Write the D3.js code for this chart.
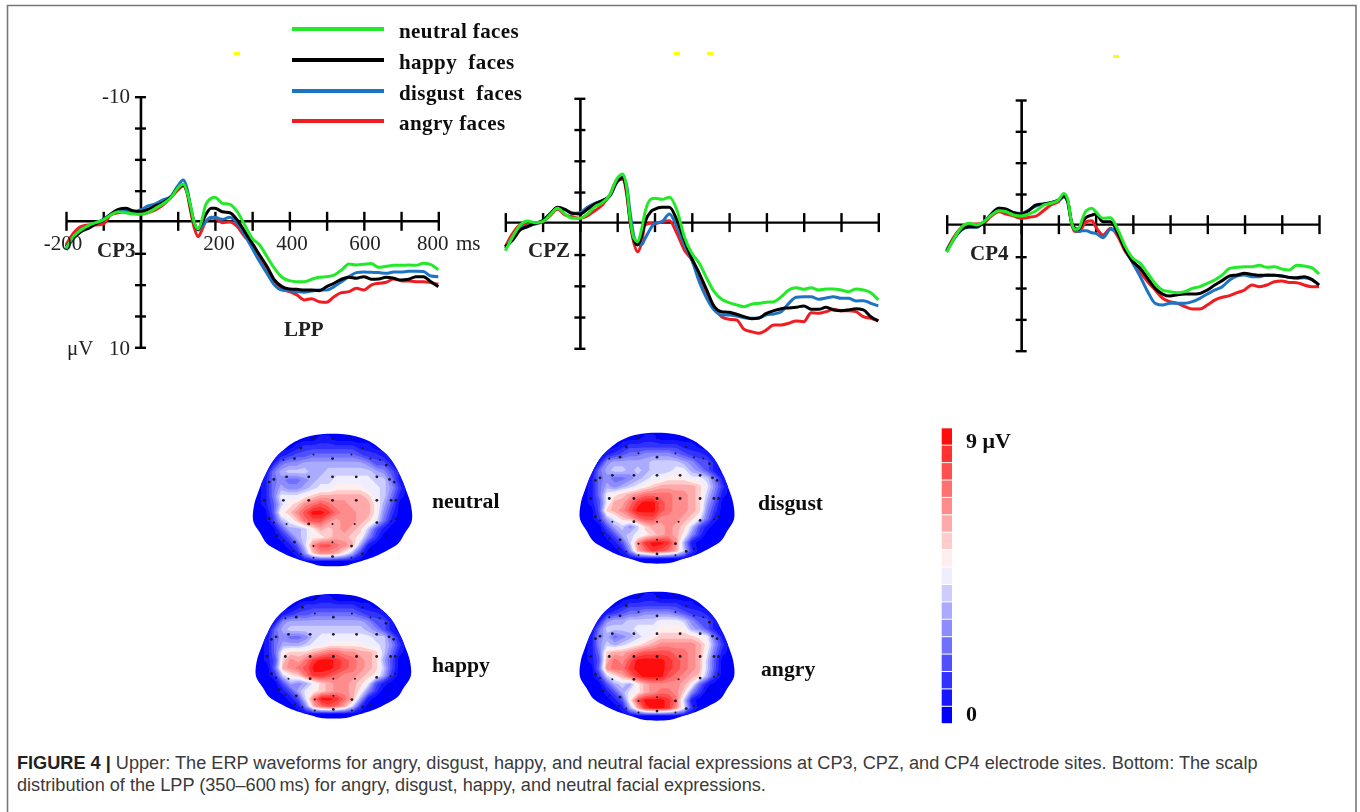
<!DOCTYPE html>
<html>
<head>
<meta charset="utf-8">
<script src="https://cdn.jsdelivr.net/npm/d3@7"></script>
<style>
  html, body { margin: 0; padding: 0; background: #fff; }
  svg { display: block; }
  text { white-space: pre; }
</style>
</head>
<body>
<div id="figure"></div>
<script>
// time points of the waveforms (ms)
const times = [-200,-180,-160,-140,-120,-100,-80,-60,-40,-20,0,20,40,60,80,100,115,125,135,145,155,165,175,190,200,220,240,260,280,300,320,340,360,380,400,420,440,460,480,500,520,540,560,580,600,620,640,660,680,700,720,740,760,780,800];

// amplitudes (uV)
const cp3Neutral = [2.10,1.17,.64,.29,.05,-.16,-.56,-.82,-.74,-.64,-.61,-.74,-1.09,-1.44,-1.89,-2.69,-3.03,-2.42,-1.22,.11,.56,-.16,-1.36,-1.89,-1.97,-1.49,-1.41,-.82,.24,1.30,1.84,2.77,3.70,4.41,4.68,4.76,4.76,4.57,4.41,4.36,4.23,3.83,3.35,3.43,3.38,3.32,3.62,3.54,3.46,3.46,3.43,3.46,3.30,3.40,3.83];
const cp3Happy = [1.97,1.30,.77,.51,.16,-.16,-.61,-1.01,-1.09,-.90,-.82,-1.01,-1.28,-1.54,-1.97,-2.69,-2.95,-2.42,-1.09,.16,.59,.05,-.56,-1.09,-1.09,-.82,-.74,-.16,.77,1.70,2.63,3.56,4.63,5.16,5.35,5.37,5.43,5.43,5.48,5.16,4.89,4.57,4.41,4.49,4.36,4.57,4.55,4.41,4.49,4.63,4.57,4.36,4.36,4.76,5.16];
const cp3Disgust = [2.23,1.30,.64,.43,.11,-.21,-.64,-.90,-.90,-.82,-.96,-1.28,-1.44,-1.76,-1.97,-2.87,-3.35,-2.69,-1.17,.11,.64,.37,-.03,-.37,-.37,-.21,-.37,.11,1.04,2.10,3.16,4.10,5.03,5.43,5.48,5.56,5.61,5.50,5.43,5.43,5.16,4.76,4.36,4.04,3.99,4.02,4.04,4.10,3.99,3.99,3.94,3.94,3.96,4.31,4.36];
const cp3Angry = [1.84,.90,.37,.24,.24,.16,-.56,-.74,-.82,-.74,-.64,-.74,-.96,-1.36,-1.89,-2.55,-2.87,-2.34,-.82,.51,1.17,.64,-.03,-.29,-.29,.05,0,.37,1.17,1.70,2.77,3.83,4.89,5.37,5.56,5.82,6.22,6.12,6.36,6.41,5.96,5.64,5.56,5.29,5.43,5.03,4.89,4.81,4.55,4.68,4.71,4.76,4.76,4.84,4.97];

const cpzNeutral = [2.19,1.07,.13,-.19,-.05,-.13,-.67,-1.20,-.75,-.40,-.40,-.75,-1.33,-1.65,-2.27,-3.60,-3.95,-2.93,-.27,1.20,1.47,.53,-.93,-1.92,-2.00,-1.92,-2.08,-1.07,1.07,2.40,3.20,4.40,5.47,6.08,6.35,6.53,6.67,6.48,6.40,6.32,6.27,5.87,5.33,5.15,5.28,5.15,5.33,5.25,5.25,5.33,5.47,5.25,5.33,5.55,6.13];
const cpzHappy = [1.87,1.33,.53,.27,0,-.21,-.75,-1.28,-1.12,-.80,-.75,-1.12,-1.55,-1.81,-2.19,-3.33,-3.65,-2.67,-.13,1.33,1.73,1.07,-.13,-.93,-1.12,-1.28,-1.28,-.27,1.33,2.80,4.00,5.33,6.67,7.07,7.12,7.28,7.47,7.63,7.57,7.20,6.99,6.83,6.77,6.72,6.61,6.88,6.88,6.72,6.93,6.99,6.93,6.83,6.93,7.47,7.81];
const cpzDisgust = [2.00,1.07,.40,.21,.05,-.21,-.75,-1.20,-1.07,-.80,-.85,-1.28,-1.60,-1.81,-2.19,-3.33,-3.68,-3.07,-.80,1.07,1.65,1.73,1.20,.40,0,-.13,-.75,.27,1.73,2.93,4.67,6.00,6.93,7.33,7.33,7.41,7.55,7.60,7.57,7.33,7.25,7.07,6.40,5.92,5.87,5.87,6.08,5.97,5.87,6.00,6.00,6.21,6.19,6.40,6.61];
const cpzAngry = [1.87,.80,.13,.05,.05,-.13,-.59,-1.12,-.67,-.53,-.40,-.59,-1.01,-1.47,-2.27,-3.47,-3.52,-2.40,0,1.60,2.27,1.60,.13,0,.05,-.13,-.21,.80,2.13,2.93,4.27,5.60,6.67,7.47,7.68,7.73,8.48,8.67,8.80,8.53,8.13,8.13,8.00,7.81,7.87,7.15,7.20,7.07,6.88,6.99,6.99,7.07,7.47,7.60,7.81];

const cp4Neutral = [2.15,1.04,.16,-.16,-.03,-.29,-.82,-1.17,-1.09,-.82,-.74,-.90,-1.17,-1.62,-1.76,-2.02,-2.55,-2.07,-.29,.32,.24,-.56,-1.17,-1.36,-1.09,-.56,-.61,.37,1.70,2.63,3.03,3.83,4.63,5.16,5.29,5.37,5.29,5.03,4.89,4.63,4.36,3.96,3.43,3.35,3.30,3.30,3.19,3.35,3.30,3.48,3.56,3.19,3.24,3.38,3.88];
const cp4Happy = [2.10,1.04,.32,.11,.11,-.21,-.90,-1.36,-1.28,-1.01,-.90,-1.17,-1.62,-1.70,-1.81,-2.02,-2.34,-1.89,-.29,.24,.32,-.29,-.64,-.82,-.90,-.29,-.29,.64,1.97,2.90,3.43,4.23,5.03,5.48,5.64,5.53,5.48,5.48,5.43,5.16,4.76,4.41,4.04,3.96,3.83,3.91,3.99,3.99,3.99,4.04,4.15,4.18,4.10,4.31,4.76];
const cp4Disgust = [2.02,1.04,.37,.16,.16,-.29,-.90,-1.36,-1.28,-1.01,-.96,-1.22,-1.54,-1.70,-1.81,-2.02,-2.29,-1.89,-.29,.37,.50,.43,.43,.59,.64,.98,.32,.64,1.97,3.03,4.10,5.29,6.22,6.36,6.22,6.22,6.22,6.09,5.82,5.48,5.16,4.89,4.36,4.04,3.96,4.10,4.10,3.96,3.99,4.04,4.15,4.23,4.18,4.31,4.76];
const cp4Angry = [1.97,.90,.16,-.11,-.11,-.21,-.74,-1.09,-.90,-.74,-.56,-.64,-.74,-1.17,-1.62,-1.89,-2.29,-1.97,-.16,.50,.50,.11,-.29,-.37,.11,.77,.24,.90,2.10,2.77,3.70,4.50,5.16,5.82,6.09,6.22,6.49,6.68,6.68,6.36,5.96,5.74,5.61,5.37,5.16,4.76,4.89,4.76,4.50,4.44,4.55,4.57,4.76,4.89,4.89];

const legendLabels = ["neutral faces", "happy  faces", "disgust  faces", "angry faces"];
const xTicks = [-200,-100,0,100,200,300,400,500,600,700,800];
const yTicks = [-10,-7.5,-5,-2.5,0,2.5,5,7.5,10];

// scalp maps: one character per cell, level 0-16 (base 17) of the colour bar
const scalpNeutral = [
  "00000000110000000000","00000122222221100000","00012334444443221000","00145566666666533100",
  "00467776677777765310","01454456778888877410","01465567889999887520","0148889abbbbbba87410",
  "01379acdedccbbb96300","0039aceggfdccbb95200","00268adeecbccba84100","00036679babcba731000",
  "000136799abba9520000","0000137ceedcb6100000","0000015accb962000000","00000000000000000000"];
const scalpHappy = [
  "00000000110000000000","00000122222221100000","00012334444443221000","00156666666666533100",
  "00467777777777653100","01454457888888877410","01466678899999887520","0149aaabcddccbba7410",
  "013acbdfggfedcba6300","004bcdegggfedcba7300","00279adffedccba96200","00036568abccba831000",
  "00013689abccb9520000","0000138dggfdb6100000","0000015bdedb72000000","00000000000000000000"];
const scalpDisgust = [
  "00000000110000000000","00000122222221100000","00012344555543221000","00156666677776533100",
  "00467767677788653100","01454456788999887410","014656789abbbbba8520","01489abcddddccba7410",
  "0138bbdfggedccba6300","003abcegggedccba5200","00268abdeecccba84100","00036757abbcba731000",
  "000136789abcb9520000","0000137cfggfc6100000","0000015bdfedb7200000","00000000000000000000"];
const scalpAngry = [
  "00000000110000000000","00000122222221100000","00012344555543221000","00156677778887533100",
  "00477778889999653100","0156456789aaaaa98410","01576789abcccccb9520","014abbcdeeeeddcb8410",
  "013bdceggggfedcb7300","004cddfggggfedcb7300","00279bdfgggedcba6200","00036769bccccb941000",
  "00013689bcddca520000","0000139egggfd7100000","0000016bfggfc8200000","00000000000000000000"];

// electrode sites on the head, 0-100 across and down
const siteU = [38,50,62,30,69,38,50,62,19,26,74,80,84,13,21,35,50,65,78,86,10,89,7,19,35,50,65,78,87,90,10,13,21,35,50,64,78,87,90,15,84,19,26,38,50,62,25,30,69,74,38,50,62];
const siteV = [3,3,3,10,10,15,18,15,19,18,18,19,23,34,32,32,32,32,32,34,36,36,50,50,50,50,50,50,50,50,64,67,68,68,68,68,67,66,64,77,77,81,82,85,82,85,89,91,91,89,94,93,94];

// head outline, 0-100 down, half width 0-50
const headV = [0,5,11.5,19,30.6,43,53.6,66,75,83,88,93,98,100];
const headHalf = [11,23.6,31,37,42.5,46.7,49.5,50,45.7,41.5,35,26.7,14,8];

// colour bar, level 0 (bottom) to level 16 (top)
const levelColors = ["#0000ff","#1818ff","#3333ff","#5050ff","#7070ff","#8c8cff","#aaaaff","#ccccff","#eeeeff","#ffeeee","#ffcccc","#ffaaaa","#ff8c8c","#ff7070","#ff5050","#ff3333","#ff1010"];

const W = 1360, H = 812;
const serif = "'Liberation Serif', 'Times New Roman', serif";
const sans = "'Liberation Sans', Arial, sans-serif";

const svg = d3.select("#figure").append("svg").attr("width", W).attr("height", H);

const defs = svg.append("defs");
defs.append("filter").attr("id", "soft")
  .append("feGaussianBlur").attr("stdDeviation", 0.45);

// frame
svg.append("path")
  .attr("d", "M7.5,812V5.5H1356V812")
  .attr("fill", "none").attr("stroke", "#777").attr("stroke-width", 1.6);

const fig = svg.append("g").attr("filter", "url(#soft)");

// stray yellow marks in the source image
fig.selectAll("rect.mark")
  .data([[234,52],[674,52],[707,52],[1113,55]])
  .enter().append("rect").attr("class", "mark")
  .attr("x", d => d[0]).attr("y", d => d[1]).attr("width", 6).attr("height", 3)
  .attr("fill", "#ffff00");

// waveform panels
const seriesStyle = [
  {key: "Angry", color: "#f01c20"},
  {key: "Disgust", color: "#1f74c4"},
  {key: "Happy", color: "#000000"},
  {key: "Neutral", color: "#20ea28"}
];
const panels = [
  {name: "CP3", x0: 66, x1: 438.3, top: 96.7, bottom: 347.3, rows: {Neutral: cp3Neutral, Happy: cp3Happy, Disgust: cp3Disgust, Angry: cp3Angry}},
  {name: "CPZ", x0: 505.3, x1: 878.3, top: 98.3, bottom: 348.3, rows: {Neutral: cpzNeutral, Happy: cpzHappy, Disgust: cpzDisgust, Angry: cpzAngry}},
  {name: "CP4", x0: 946.7, x1: 1319, top: 100, bottom: 350.7, rows: {Neutral: cp4Neutral, Happy: cp4Happy, Disgust: cp4Disgust, Angry: cp4Angry}}
];

panels.forEach(function(p) {
  const x = d3.scaleLinear().domain([-200, 800]).range([p.x0, p.x1]);
  const y = d3.scaleLinear().domain([-10, 10]).range([p.top, p.bottom]);
  const g = fig.append("g");

  // horizontal axis sits about a pixel above the zero of the tick scale
  const axisY = y(0) - 1.2;
  const xAxis = g.append("g").attr("transform", `translate(0,${axisY})`)
    .call(d3.axisBottom(x).tickValues(xTicks).tickFormat("").tickSizeOuter(0));
  xAxis.selectAll(".tick line").attr("y1", -9).attr("y2", 10).attr("stroke-width", 2.4).attr("stroke", "#000");
  xAxis.select(".domain").attr("stroke-width", 2.4).attr("stroke", "#000");

  const yAxis = g.append("g").attr("transform", `translate(${x(0)},0)`)
    .call(d3.axisLeft(y).tickValues(yTicks).tickFormat("").tickSizeOuter(0));
  yAxis.selectAll(".tick line").attr("x1", -5.5).attr("x2", 5.5).attr("stroke-width", 2.4).attr("stroke", "#000")
    .filter(d => d === 0).remove();
  yAxis.select(".domain").attr("stroke-width", 2.6).attr("stroke", "#000");

  const line = d3.line()
    .x((d, i) => x(times[i]))
    .y(d => y(d))
    .curve(d3.curveMonotoneX);
  seriesStyle.forEach(function(s) {
    g.append("path")
      .datum(p.rows[s.key])
      .attr("d", line)
      .attr("fill", "none")
      .attr("stroke", s.color)
      .attr("stroke-width", 3)
      .attr("stroke-linejoin", "round");
  });
});

// legend
const legendY = [29, 60, 91, 121];
const legendColors = ["#20ea28", "#000000", "#1f74c4", "#f01c20"];
legendLabels.forEach(function(label, i) {
  fig.append("line")
    .attr("x1", 292).attr("x2", 384).attr("y1", legendY[i]).attr("y2", legendY[i])
    .attr("stroke", legendColors[i]).attr("stroke-width", 4);
  fig.append("text")
    .attr("x", 399).attr("y", legendY[i] + 9)
    .attr("font-family", serif).attr("font-weight", "bold").attr("font-size", 21)
    .attr("letter-spacing", 0.4)
    .attr("fill", "#111")
    .text(label);
});

// panel text
const notes = [
  ["-10", 130, 103, "end", "normal"],
  ["-200", 63, 250, "middle", "normal"],
  ["200", 219, 250, "middle", "normal"],
  ["400", 292, 250, "middle", "normal"],
  ["600", 365, 250, "middle", "normal"],
  ["800", 417, 250, "start", "normal"],
  ["ms", 456, 250, "start", "normal"],
  ["\u03bcV", 67, 355, "start", "normal"],
  ["10", 130, 355, "end", "normal"],
  ["CP3", 97, 257, "start", "bold"],
  ["LPP", 284, 336, "start", "bold"],
  ["CPZ", 528, 257, "start", "bold"],
  ["CP4", 970, 260, "start", "bold"]
];
notes.forEach(function(n) {
  fig.append("text")
    .attr("x", n[1]).attr("y", n[2])
    .attr("text-anchor", n[3]).attr("font-weight", n[4])
    .attr("font-family", serif).attr("font-size", 21).attr("fill", "#222")
    .text(n[0]);
});

// scalp maps
const scalpMaps = [
  {name: "neutral", rows: scalpNeutral, x0: 253.3, x1: 411.7, y0: 435, y1: 565.7, tx: 432, ty: 508},
  {name: "happy", rows: scalpHappy, x0: 256, x1: 410.7, y0: 595, y1: 718, tx: 432, ty: 672},
  {name: "disgust", rows: scalpDisgust, x0: 580, x1: 734, y0: 434, y1: 563, tx: 758, ty: 510},
  {name: "angry", rows: scalpAngry, x0: 580, x1: 734, y0: 593, y1: 720, tx: 761, ty: 676}
];

scalpMaps.forEach(function(m, mi) {
  const u = d3.scaleLinear().domain([0, 100]).range([m.x0, m.x1]);
  const v = d3.scaleLinear().domain([0, 100]).range([m.y0, m.y1]);
  const nRows = m.rows.length, nCols = m.rows[0].length;
  const cellX = d3.scaleLinear().domain([0, nCols]).range([m.x0, m.x1]);
  const cellY = d3.scaleLinear().domain([0, nRows]).range([m.y0, m.y1]);

  // grid -> filled contour bands
  const values = [];
  m.rows.forEach(r => r.split("").forEach(c => values.push(parseInt(c, 17))));
  const thresholds = d3.range(0.5, 16.5, 1);
  const bands = d3.contours().size([nCols, nRows]).smooth(true).thresholds(thresholds)(values);
  const path = d3.geoPath(d3.geoTransform({
    point: function(px, py) { this.stream.point(cellX(px), cellY(py)); }
  }));

  // head outline
  const outline = headV.map((d, i) => [50 - headHalf[i], d])
    .concat(headV.map((d, i) => [50 + headHalf[i], d]).reverse());
  const headPath = d3.line().x(d => u(d[0])).y(d => v(d[1])).curve(d3.curveCatmullRomClosed)(outline);

  defs.append("clipPath").attr("id", "head" + mi).append("path").attr("d", headPath);

  const g = fig.append("g");
  g.append("path").attr("d", headPath).attr("fill", levelColors[0]);
  g.append("g").attr("clip-path", `url(#head${mi})`)
    .selectAll("path").data(bands).enter().append("path")
    .attr("d", path)
    .attr("fill", (d, i) => levelColors[i + 1]);

  g.selectAll("circle").data(siteU).enter().append("circle")
    .attr("cx", d => u(d))
    .attr("cy", (d, i) => v(siteV[i]))
    .attr("r", (d, i) => (siteV[i] >= 32 && siteV[i] <= 50) || i % 3 === 0 ? 1.4 : 1)
    .attr("fill", "#1a1a2a");

  fig.append("text")
    .attr("x", m.tx).attr("y", m.ty)
    .attr("font-family", serif).attr("font-weight", "bold").attr("font-size", 21.7)
    .attr("fill", "#111")
    .text(m.name);
});

// colour bar
const barY = d3.scaleBand().domain(d3.range(16, -1, -1)).range([428.3, 723.2]).paddingInner(0.06);
fig.selectAll("rect.swatch").data(d3.range(17)).enter().append("rect")
  .attr("class", "swatch")
  .attr("x", 941.7).attr("width", 10.3)
  .attr("y", d => barY(d)).attr("height", barY.bandwidth())
  .attr("fill", d => levelColors[d]);
fig.append("text").attr("x", 966).attr("y", 448)
  .attr("font-family", serif).attr("font-weight", "bold").attr("font-size", 22).attr("fill", "#111").text("9 \u03bcV");
fig.append("text").attr("x", 966).attr("y", 721)
  .attr("font-family", serif).attr("font-weight", "bold").attr("font-size", 22).attr("fill", "#111").text("0");

// caption
const caption = svg.append("text").attr("font-family", sans).attr("font-size", 18.15).attr("fill", "#3a3a3a");
const cap1 = caption.append("tspan").attr("x", 17).attr("y", 769);
cap1.append("tspan").attr("font-weight", "bold").attr("fill", "#222").text("FIGURE 4 | ");
cap1.append("tspan").text("Upper: The ERP waveforms for angry, disgust, happy, and neutral facial expressions at CP3, CPZ, and CP4 electrode sites. Bottom: The scalp");
caption.append("tspan").attr("x", 17).attr("y", 791)
  .text("distribution of the LPP (350\u2013600\u2009ms) for angry, disgust, happy, and neutral facial expressions.");
</script>
</body>
</html>
